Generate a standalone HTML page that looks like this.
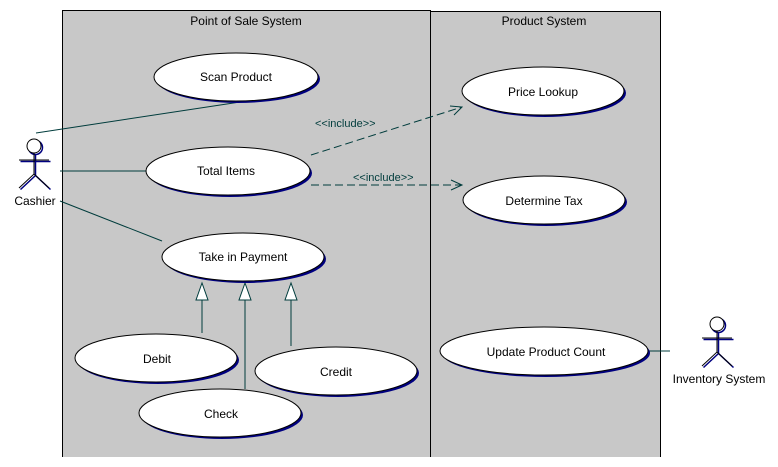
<!DOCTYPE html>
<html><head><meta charset="utf-8"><style>
html,body{margin:0;padding:0;background:#fff;}
svg{display:block;}
text{font-family:"Liberation Sans",sans-serif;font-size:12px;fill:#000;}
</style></head><body>
<svg width="778" height="467" viewBox="0 0 778 467" xmlns="http://www.w3.org/2000/svg">
<rect x="62.5" y="10.5" width="368" height="450" fill="#c8c8c8" stroke="#000"/>
<rect x="430.5" y="11.5" width="230" height="449" fill="#c8c8c8" stroke="#000"/>
<rect x="0" y="457" width="778" height="10" fill="#fff"/>
<text x="246" y="25" text-anchor="middle">Point of Sale System</text>
<text x="544" y="25" text-anchor="middle">Product System</text>

<g stroke="#003c3c" stroke-width="1" fill="none">
<line x1="36" y1="133" x2="240" y2="102"/>
<line x1="60" y1="171" x2="146" y2="171"/>
<line x1="60" y1="201" x2="162" y2="241"/>
<line x1="648" y1="351" x2="670" y2="351"/>
<line x1="202" y1="333" x2="202" y2="300"/>
<line x1="245" y1="389" x2="245" y2="300"/>
<line x1="291" y1="346" x2="291" y2="300"/>
<line x1="311" y1="155" x2="462" y2="107" stroke-dasharray="8,4"/>
<polyline points="450,106 462,107 454,115"/>
<line x1="311" y1="185" x2="462" y2="185" stroke-dasharray="8,4"/>
<polyline points="451,180 462,185 451,190"/>
</g>
<g fill="#fff" stroke="#003c3c">
<polygon points="202,283 196,300 208,300"/>
<polygon points="245,283 239,300 251,300"/>
<polygon points="291,283 285,300 297,300"/>
</g>
<text x="315" y="127" style="fill:#003c3c;font-size:11px">&lt;&lt;include&gt;&gt;</text>
<text x="353" y="181" style="fill:#003c3c;font-size:11px">&lt;&lt;include&gt;&gt;</text>

<g>
<g transform="translate(2,2)" fill="#000080">
<ellipse cx="236" cy="77" rx="82" ry="24"/>
<ellipse cx="228" cy="171" rx="82" ry="24"/>
<ellipse cx="243" cy="257" rx="81" ry="24"/>
<ellipse cx="156" cy="358" rx="81" ry="24"/>
<ellipse cx="336" cy="371" rx="81" ry="24"/>
<ellipse cx="220" cy="413" rx="81" ry="24"/>
<ellipse cx="543" cy="91" rx="81" ry="24"/>
<ellipse cx="544" cy="200" rx="81" ry="24"/>
<ellipse cx="544" cy="351" rx="104" ry="24"/>
</g>
<g fill="#fff" stroke="#000">
<ellipse cx="236" cy="77" rx="82" ry="24"/>
<ellipse cx="228" cy="171" rx="82" ry="24"/>
<ellipse cx="243" cy="257" rx="81" ry="24"/>
<ellipse cx="156" cy="358" rx="81" ry="24"/>
<ellipse cx="336" cy="371" rx="81" ry="24"/>
<ellipse cx="220" cy="413" rx="81" ry="24"/>
<ellipse cx="543" cy="91" rx="81" ry="24"/>
<ellipse cx="544" cy="200" rx="81" ry="24"/>
<ellipse cx="544" cy="351" rx="104" ry="24"/>
</g>
</g>
<text x="236" y="81" text-anchor="middle">Scan Product</text>
<text x="226" y="175" text-anchor="middle">Total Items</text>
<text x="243" y="261" text-anchor="middle">Take in Payment</text>
<text x="157" y="363" text-anchor="middle">Debit</text>
<text x="336" y="376" text-anchor="middle">Credit</text>
<text x="221" y="418" text-anchor="middle">Check</text>
<text x="543" y="96" text-anchor="middle">Price Lookup</text>
<text x="544" y="205" text-anchor="middle">Determine Tax</text>
<text x="546" y="356" text-anchor="middle">Update Product Count</text>

<g stroke="#000080" stroke-width="1.5" fill="none" transform="translate(1.5,1.5)">
<circle cx="34" cy="146" r="7"/><line x1="34" y1="153" x2="34" y2="174"/><line x1="19" y1="160" x2="49" y2="160"/><polyline points="19,188 34,174 49,188"/>
<circle cx="717" cy="324" r="7"/><line x1="717" y1="331" x2="717" y2="352"/><line x1="702" y1="338" x2="732" y2="338"/><polyline points="702,366 717,352 732,366"/>
</g>
<g stroke="#000" stroke-width="1" fill="#fff">
<circle cx="34" cy="146" r="7"/><line x1="34" y1="153" x2="34" y2="174"/><line x1="19" y1="160" x2="49" y2="160"/><polyline points="19,188 34,174 49,188" fill="none"/>
<circle cx="717" cy="324" r="7"/><line x1="717" y1="331" x2="717" y2="352"/><line x1="702" y1="338" x2="732" y2="338"/><polyline points="702,366 717,352 732,366" fill="none"/>
</g>
<text x="35" y="205" text-anchor="middle">Cashier</text>
<text x="719" y="383" text-anchor="middle">Inventory System</text>
</svg>
</body></html>
